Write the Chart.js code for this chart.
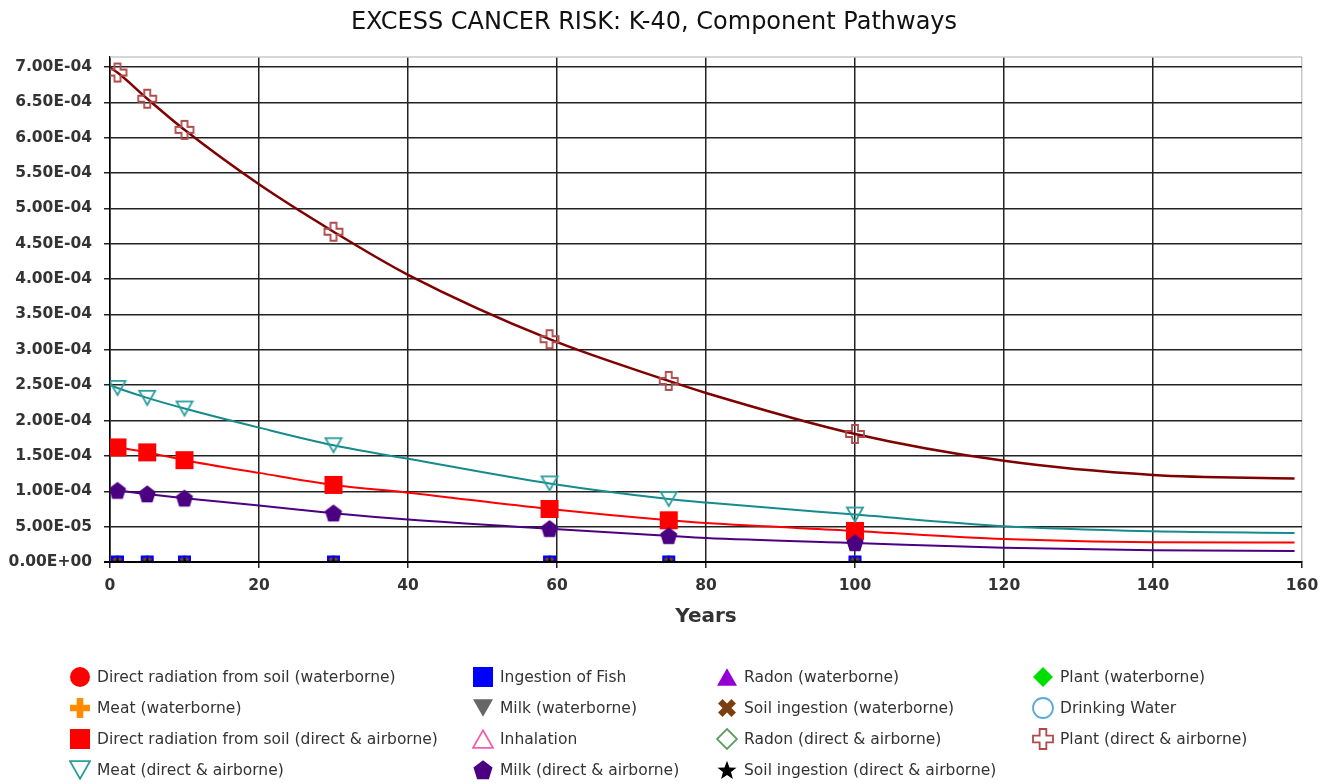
<!DOCTYPE html>
<html>
<head>
<meta charset="utf-8">
<title>Excess Cancer Risk K-40</title>
<script src="https://cdn.jsdelivr.net/npm/chart.js@4.4.1/dist/chart.umd.min.js"></script>
<style>
    html, body { margin: 0; padding: 0; background: #fff; }
    #wrap { position: relative; width: 1320px; height: 783px; overflow: hidden; }
    #riskChart { position: absolute; left: 0; top: 0; }
    .legendItem {
        position: absolute;
        display: flex;
        align-items: center;
        height: 22px;
        font-family: "DejaVu Sans", sans-serif;
        font-size: 15.5px;
        color: #333;
        white-space: nowrap;
    }
    .legendItem span { margin-left: 6px; }
</style>
</head>
<body>
<div id="wrap">
    <canvas id="riskChart" width="1320" height="783"></canvas>
    <div id="legendArea"></div>
</div>
<script>
// Years sampled along each curve, and the years that carry a marker
const lineYears = [0, 1, 5, 10, 20, 30, 40, 59, 75, 80, 100, 120, 140, 159];
const markerYears = [1, 5, 10, 30, 59, 75, 100];

// Risk values (one value per entry of lineYears)
const plantDirect = [6.99e-4, 6.92e-4, 6.55e-4, 6.11e-4, 5.34e-4, 4.67e-4, 4.06e-4, 3.15e-4, 2.56e-4, 2.39e-4, 1.81e-4, 1.43e-4, 1.23e-4, 1.18e-4];
const meatDirect = [2.50e-4, 2.46e-4, 2.32e-4, 2.17e-4, 1.90e-4, 1.65e-4, 1.46e-4, 1.11e-4, 0.89e-4, 0.84e-4, 0.67e-4, 0.505e-4, 0.434e-4, 0.41e-4];
const directRadDirect = [1.63e-4, 1.62e-4, 1.55e-4, 1.44e-4, 1.26e-4, 1.09e-4, 0.98e-4, 0.75e-4, 0.59e-4, 0.55e-4, 0.44e-4, 0.325e-4, 0.28e-4, 0.274e-4];
const milkDirect = [1.02e-4, 1.01e-4, 0.96e-4, 0.90e-4, 0.80e-4, 0.69e-4, 0.60e-4, 0.47e-4, 0.37e-4, 0.34e-4, 0.27e-4, 0.20e-4, 0.165e-4, 0.156e-4];
const zeroPathway = [0, 0, 0, 0, 0, 0, 0, 0, 0, 0, 0, 0, 0, 0];

const xTicks = [0, 20, 40, 60, 80, 100, 120, 140, 160];
const yTicks = [0, 0.5e-4, 1.0e-4, 1.5e-4, 2.0e-4, 2.5e-4, 3.0e-4, 3.5e-4, 4.0e-4, 4.5e-4, 5.0e-4, 5.5e-4, 6.0e-4, 6.5e-4, 7.0e-4];

// Legend order (row by row, 4 columns)
const seriesNames = [
    'Direct radiation from soil (waterborne)', 'Ingestion of Fish', 'Radon (waterborne)', 'Plant (waterborne)',
    'Meat (waterborne)', 'Milk (waterborne)', 'Soil ingestion (waterborne)', 'Drinking Water',
    'Direct radiation from soil (direct & airborne)', 'Inhalation', 'Radon (direct & airborne)', 'Plant (direct & airborne)',
    'Meat (direct & airborne)', 'Milk (direct & airborne)', 'Soil ingestion (direct & airborne)'
];
const seriesValues = [
    zeroPathway, zeroPathway, zeroPathway, zeroPathway,
    zeroPathway, zeroPathway, zeroPathway, zeroPathway,
    directRadDirect, zeroPathway, zeroPathway, plantDirect,
    meatDirect, milkDirect, zeroPathway
];

// marker look: shape, fill, stroke, line colour
const seriesStyle = [
    { shape: 'circle', fill: '#FF0000', stroke: null, line: '#FF0000' },
    { shape: 'square', fill: '#0000FF', stroke: null, line: '#0000FF' },
    { shape: 'triangle', fill: '#9400D3', stroke: null, line: '#9400D3' },
    { shape: 'diamond', fill: '#00DD00', stroke: null, line: '#00DD00' },
    { shape: 'plus', fill: '#FF8C00', stroke: null, line: '#FF8C00' },
    { shape: 'triDown', fill: '#666666', stroke: null, line: '#666666' },
    { shape: 'cross', fill: '#7B3F12', stroke: null, line: '#7B3F12' },
    { shape: 'circle', fill: null, stroke: '#5AA8E0', line: '#5AA8E0' },
    { shape: 'square', fill: '#FF0000', stroke: null, line: '#FF0000' },
    { shape: 'triangle', fill: null, stroke: '#F060B0', line: '#F060B0' },
    { shape: 'diamond', fill: null, stroke: '#5FA05F', line: '#5FA05F' },
    { shape: 'plus', fill: null, stroke: '#B04A4A', line: '#7F0000' },
    { shape: 'triDown', fill: null, stroke: '#2A9D9D', line: '#168B8B' },
    { shape: 'pentagon', fill: '#4B0082', stroke: null, line: '#4B0082' },
    { shape: 'star', fill: '#000000', stroke: null, line: '#000000' }
];
// draw order (lower = on top)
const seriesOrder = [6, 3, 7, 8, 9, 10, 2, 11, 1, 12, 13, 0, 0, 0, 1];

function shapePath(g, shape, m, size) {
    const r = size / 2;
    const pts = [];
    if (shape === 'circle') {
        g.arc(m, m, r, 0, Math.PI * 2);
        return;
    }
    if (shape === 'square') {
        g.rect(m - r, m - r, size, size);
        return;
    }
    if (shape === 'triangle' || shape === 'triDown') {
        const h = size * 0.88;
        const s = shape === 'triangle' ? 1 : -1;
        pts.push([m, m - s * h / 2], [m + r, m + s * h / 2], [m - r, m + s * h / 2]);
    } else if (shape === 'diamond') {
        pts.push([m, m - r], [m + r, m], [m, m + r], [m - r, m]);
    } else if (shape === 'plus' || shape === 'cross') {
        const a = size / 6;
        const base = [[-a, -r], [a, -r], [a, -a], [r, -a], [r, a], [a, a], [a, r], [-a, r], [-a, a], [-r, a], [-r, -a], [-a, -a]];
        const ang = shape === 'cross' ? Math.PI / 4 : 0;
        const k = shape === 'cross' ? 0.95 : 1;
        base.forEach(([x, y]) => {
            pts.push([m + k * (x * Math.cos(ang) - y * Math.sin(ang)), m + k * (x * Math.sin(ang) + y * Math.cos(ang))]);
        });
    } else if (shape === 'pentagon') {
        for (let i = 0; i < 5; i++) {
            const t = -Math.PI / 2 + i * 2 * Math.PI / 5;
            pts.push([m + r * Math.cos(t), m + r * 1.05 * Math.sin(t) + r * 0.08]);
        }
    } else if (shape === 'star') {
        for (let i = 0; i < 10; i++) {
            const t = -Math.PI / 2 + i * Math.PI / 5;
            const rr = i % 2 === 0 ? r : r * 0.42;
            pts.push([m + rr * Math.cos(t), m + rr * Math.sin(t) + r * 0.08]);
        }
    }
    g.moveTo(pts[0][0], pts[0][1]);
    for (let i = 1; i < pts.length; i++) g.lineTo(pts[i][0], pts[i][1]);
    g.closePath();
}

function makeMarker(style, size, box) {
    const c = document.createElement('canvas');
    c.width = c.height = box || size + 4;
    const g = c.getContext('2d');
    g.beginPath();
    shapePath(g, style.shape, c.width / 2, size);
    if (style.fill) {
        g.fillStyle = style.fill;
        g.fill();
    }
    if (style.stroke) {
        g.lineWidth = 1.8;
        g.strokeStyle = style.stroke;
        g.stroke();
    }
    return c;
}

function markerSize(i) {
    if (seriesValues[i] !== zeroPathway) return seriesStyle[i].shape === 'triDown' ? 16 : 18;
    if (seriesStyle[i].shape === 'square') return 13;
    if (seriesStyle[i].shape === 'star') return 10;
    return 11;
}

function sci(v) {
    if (Math.abs(v) < 1e-12) return '0.00E+00';
    const parts = v.toExponential(2).split('e');
    const n = parseInt(parts[1], 10);
    return parts[0] + 'E' + (n < 0 ? '-' : '+') + String(Math.abs(n)).padStart(2, '0');
}

const datasets = seriesNames.map((name, i) => {
    const marker = makeMarker(seriesStyle[i], markerSize(i));
    const nonZero = seriesValues[i] !== zeroPathway;
    return {
        label: name,
        data: lineYears.map((yr, j) => ({ x: yr, y: seriesValues[i][j] })),
        borderColor: seriesStyle[i].line,
        backgroundColor: seriesStyle[i].fill || seriesStyle[i].stroke,
        borderWidth: seriesStyle[i].shape === 'plus' && nonZero ? 2.5 : 2,
        pointStyle: marker,
        pointRadius: ctx => (ctx.raw && markerYears.includes(ctx.raw.x)) ? 6 : 0,
        pointHoverRadius: ctx => (ctx.raw && markerYears.includes(ctx.raw.x)) ? 6 : 0,
        cubicInterpolationMode: 'monotone',
        fill: false,
        order: seriesOrder[i]
    };
});

// light frame on top, black x axis redrawn over the zero lines
const frameBorder = {
    id: 'frameBorder',
    beforeDatasetsDraw(chart) {
        const { ctx, chartArea: a } = chart;
        ctx.save();
        ctx.strokeStyle = '#c8c8c8';
        ctx.lineWidth = 1.5;
        ctx.beginPath();
        ctx.moveTo(a.left, a.top);
        ctx.lineTo(a.right, a.top);
        ctx.stroke();
        ctx.restore();
    },
    afterDatasetsDraw(chart) {
        const { ctx, chartArea: a } = chart;
        ctx.save();
        ctx.strokeStyle = '#000';
        ctx.lineWidth = 2;
        ctx.beginPath();
        ctx.moveTo(a.left - 6, a.bottom);
        ctx.lineTo(a.right, a.bottom);
        ctx.stroke();
        ctx.restore();
    }
};

const ctx = document.getElementById('riskChart').getContext('2d');
const riskChart = new Chart(ctx, {
    type: 'line',
    data: { datasets: datasets },
    plugins: [frameBorder],
    options: {
        responsive: false,
        animation: false,
        layout: { padding: { left: 6, right: 18, top: 0, bottom: 151 } },
        plugins: {
            legend: { display: false },
            tooltip: { enabled: false },
            title: {
                display: true,
                text: 'EXCESS CANCER RISK: K-40, Component Pathways',
                color: '#111',
                font: { family: 'DejaVu Sans', size: 24, weight: 'normal' },
                padding: { top: 8, bottom: 20.2 }
            }
        },
        scales: {
            x: {
                type: 'linear',
                min: 0,
                max: 160,
                afterFit: scale => {
                    scale.height = 70;
                    scale.paddingLeft = 0;
                    scale.paddingRight = 0;
                },
                afterBuildTicks: scale => { scale.ticks = xTicks.map(v => ({ value: v })); },
                ticks: {
                    color: '#333',
                    padding: 9,
                    font: { family: 'DejaVu Sans', size: 15.5, weight: 'bold' }
                },
                grid: {
                    color: c => (c.tick && c.tick.value === 160) ? '#c8c8c8' : '#222',
                    lineWidth: 1.5,
                    tickColor: '#222',
                    tickLength: 6
                },
                border: { color: '#000', width: 2 },
                title: {
                    display: true,
                    text: 'Years',
                    color: '#333',
                    font: { family: 'DejaVu Sans', size: 20, weight: 'bold' },
                    padding: { top: 0, bottom: 3 }
                }
            },
            y: {
                min: 0,
                max: 7.14e-4,
                afterFit: scale => {
                    scale.width = 104;
                    scale.paddingTop = 0;
                    scale.paddingBottom = 0;
                },
                afterBuildTicks: scale => { scale.ticks = yTicks.map(v => ({ value: v })); },
                ticks: {
                    color: '#333',
                    padding: 12,
                    font: { family: 'DejaVu Sans', size: 15.5, weight: 'bold' },
                    callback: v => sci(v)
                },
                grid: { color: '#222', lineWidth: 1.5, tickLength: 6 },
                border: { color: '#000', width: 1.5 }
            }
        }
    }
});

// HTML legend, 4 columns
const legendCols = [80, 483, 727, 1043];
const legendRows = [677, 708, 739, 770];
const legendArea = document.getElementById('legendArea');
seriesNames.forEach((name, i) => {
    const item = document.createElement('div');
    item.className = 'legendItem';
    item.style.left = (legendCols[i % 4] - 11) + 'px';
    item.style.top = (legendRows[Math.floor(i / 4)] - 11) + 'px';
    item.appendChild(makeMarker(seriesStyle[i], 20, 22));
    const span = document.createElement('span');
    span.textContent = name;
    item.appendChild(span);
    legendArea.appendChild(item);
});
</script>
</body>
</html>
